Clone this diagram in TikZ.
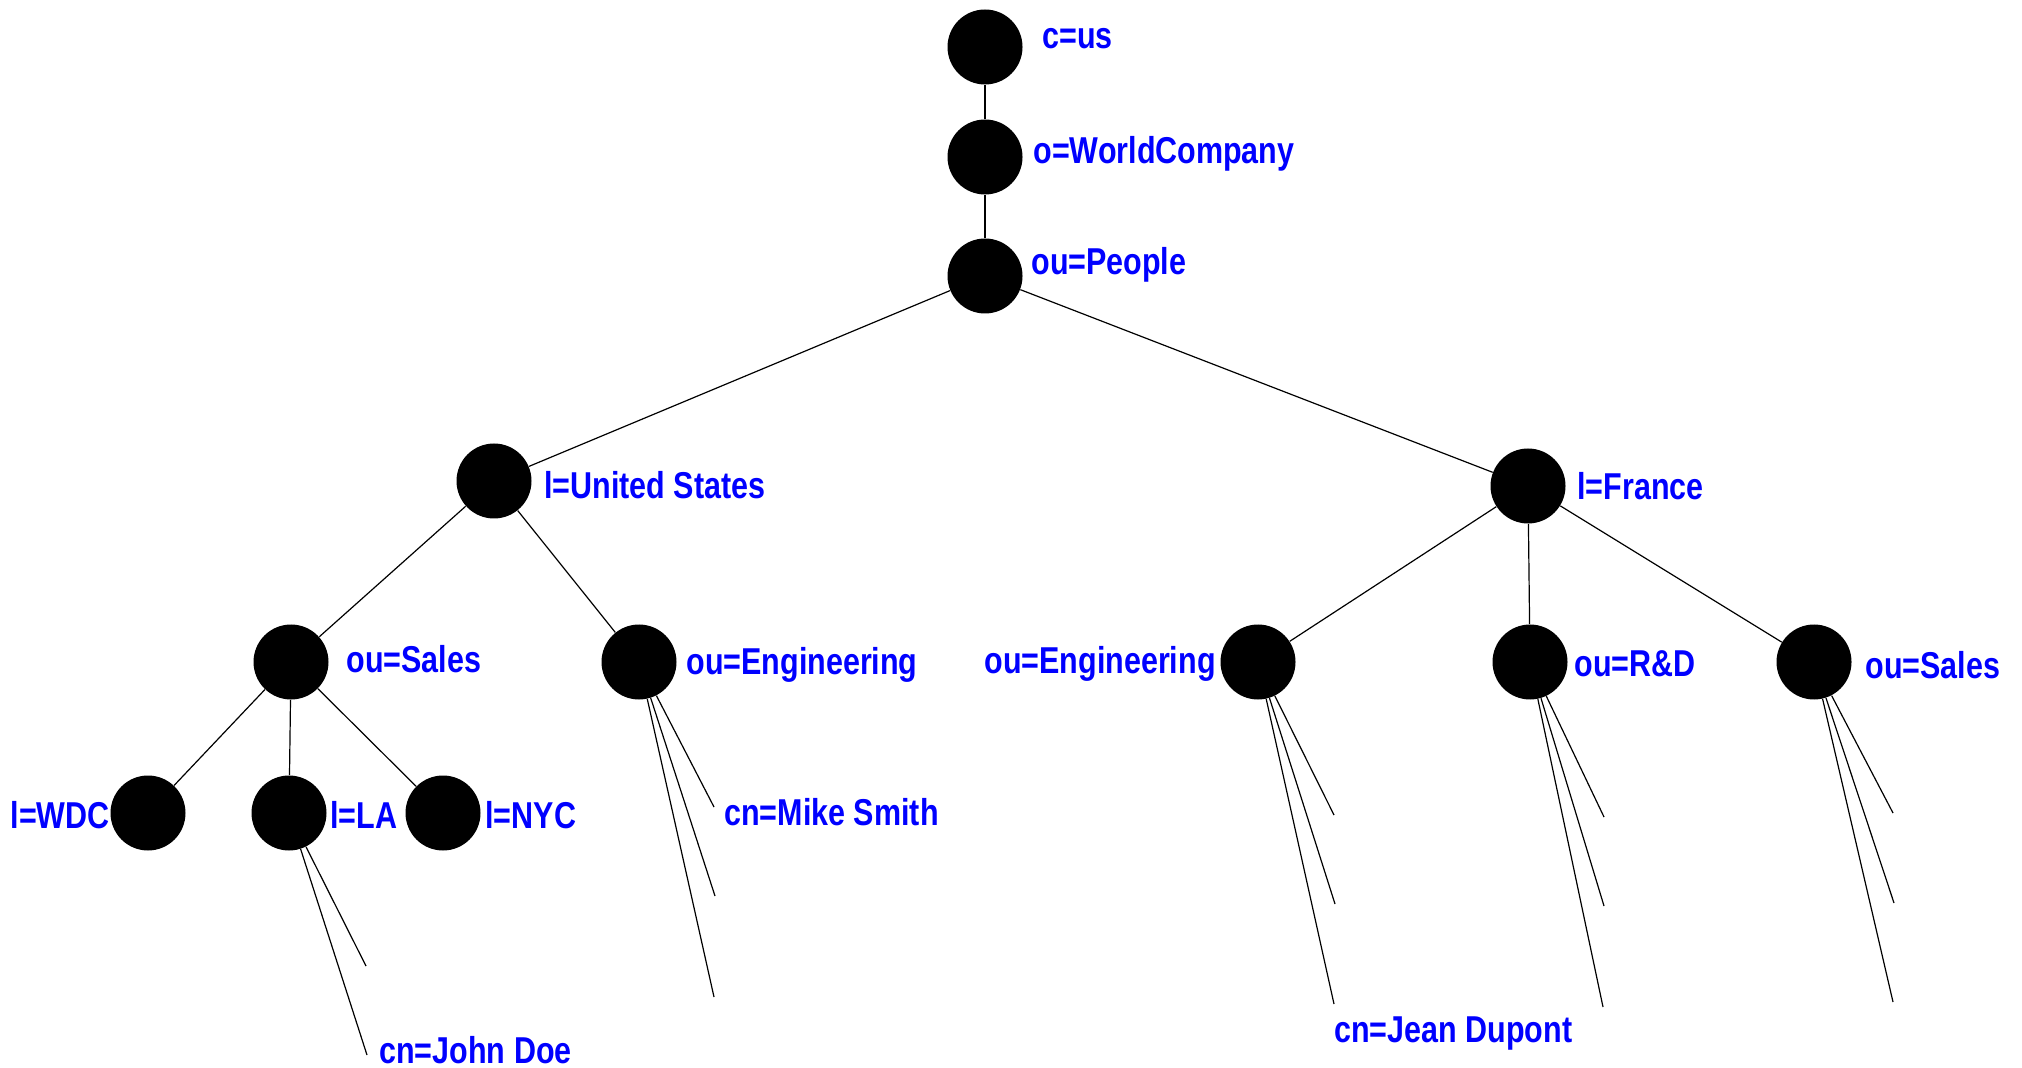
\documentclass[tikz,border=0pt]{standalone}
\usepackage{fontspec}
\newfontfamily\labfont[FakeStretch=0.815]{Liberation Sans}
\begin{document}
\begin{tikzpicture}[x=0.5pt,y=-0.5pt,
  dot/.style={circle,fill=black,draw=none,minimum size=37.5pt,inner sep=0pt},
  lab/.style={anchor=base west,inner sep=0pt,text=blue,font=\labfont\bfseries\fontsize{18.7pt}{20pt}\selectfont},
  labr/.style={lab,anchor=base east},
  edge/.style={draw=black,line width=0.6pt}]
\useasboundingbox (0,0) rectangle (2022,1068);
% tree nodes
\node[dot] (c) at (985,47) {};
\node[dot] (o) at (985,157) {};
\node[dot] (p) at (985,276) {};
\node[dot] (us) at (494,481) {};
\node[dot] (fr) at (1528,486) {};
\node[dot] (sal) at (291,662) {};
\node[dot] (eng) at (639,662) {};
\node[dot] (wdc) at (148,813) {};
\node[dot] (la) at (289,813) {};
\node[dot] (nyc) at (443,813) {};
\node[dot] (engf) at (1258,662) {};
\node[dot] (rd) at (1530,662) {};
\node[dot] (salf) at (1814,662) {};
% labels
\node[lab] (tc) at (1042,49) {c=us};
\node[lab] (to) at (1033,164) {o=WorldCompany};
\node[lab] (tp) at (1031,275) {ou=People};
\node[lab] (tus) at (544,499) {l=United States};
\node[lab] (tfr) at (1577,500) {l=France};
\node[lab] (tsal) at (346,672) {ou=Sales};
\node[lab] (teng) at (686,674) {ou=Engineering};
\node[labr] (twdc) at (110,828) {l=WDC};
\node[lab] (tla) at (330,828) {l=LA};
\node[lab] (tnyc) at (485,828) {l=NYC};
\node[labr] (tengf) at (1216,673) {ou=Engineering};
\node[lab] (trd) at (1574,676) {ou=R\&D};
\node[lab] (tsalf) at (1865,678) {ou=Sales};
\node[lab] (tjd) at (379,1063) {cn=John Doe};
\node[lab] (tms) at (724,825) {cn=Mike Smith};
\node[lab] (tjp) at (1334,1042) {cn=Jean Dupont};
% fan end points
\coordinate (la1) at (366,966);
\coordinate (la2) at (367,1055);
\coordinate (eng1) at (714,807);
\coordinate (eng2) at (715,896);
\coordinate (eng3) at (714,997);
\coordinate (engf1) at (1334,815);
\coordinate (engf2) at (1335,904);
\coordinate (engf3) at (1334,1004);
\coordinate (rd1) at (1604,817);
\coordinate (rd2) at (1604,906);
\coordinate (rd3) at (1603,1007);
\coordinate (salf1) at (1893,813);
\coordinate (salf2) at (1894,903);
\coordinate (salf3) at (1893,1002);
% connectors
\draw[edge] (c) -- (o);
\draw[edge] (o) -- (p);
\draw[edge] (p) -- (us);
\draw[edge] (p) -- (fr);
\draw[edge] (us) -- (sal);
\draw[edge] (us) -- (eng);
\draw[edge] (sal) -- (wdc);
\draw[edge] (sal) -- (la);
\draw[edge] (sal) -- (nyc);
\draw[edge] (fr) -- (engf);
\draw[edge] (fr) -- (rd);
\draw[edge] (fr) -- (salf);
\draw[edge] (la) -- (la1);
\draw[edge] (la) -- (la2);
\draw[edge] (eng) -- (eng1);
\draw[edge] (eng) -- (eng2);
\draw[edge] (eng) -- (eng3);
\draw[edge] (engf) -- (engf1);
\draw[edge] (engf) -- (engf2);
\draw[edge] (engf) -- (engf3);
\draw[edge] (rd) -- (rd1);
\draw[edge] (rd) -- (rd2);
\draw[edge] (rd) -- (rd3);
\draw[edge] (salf) -- (salf1);
\draw[edge] (salf) -- (salf2);
\draw[edge] (salf) -- (salf3);
\end{tikzpicture}
\end{document}
